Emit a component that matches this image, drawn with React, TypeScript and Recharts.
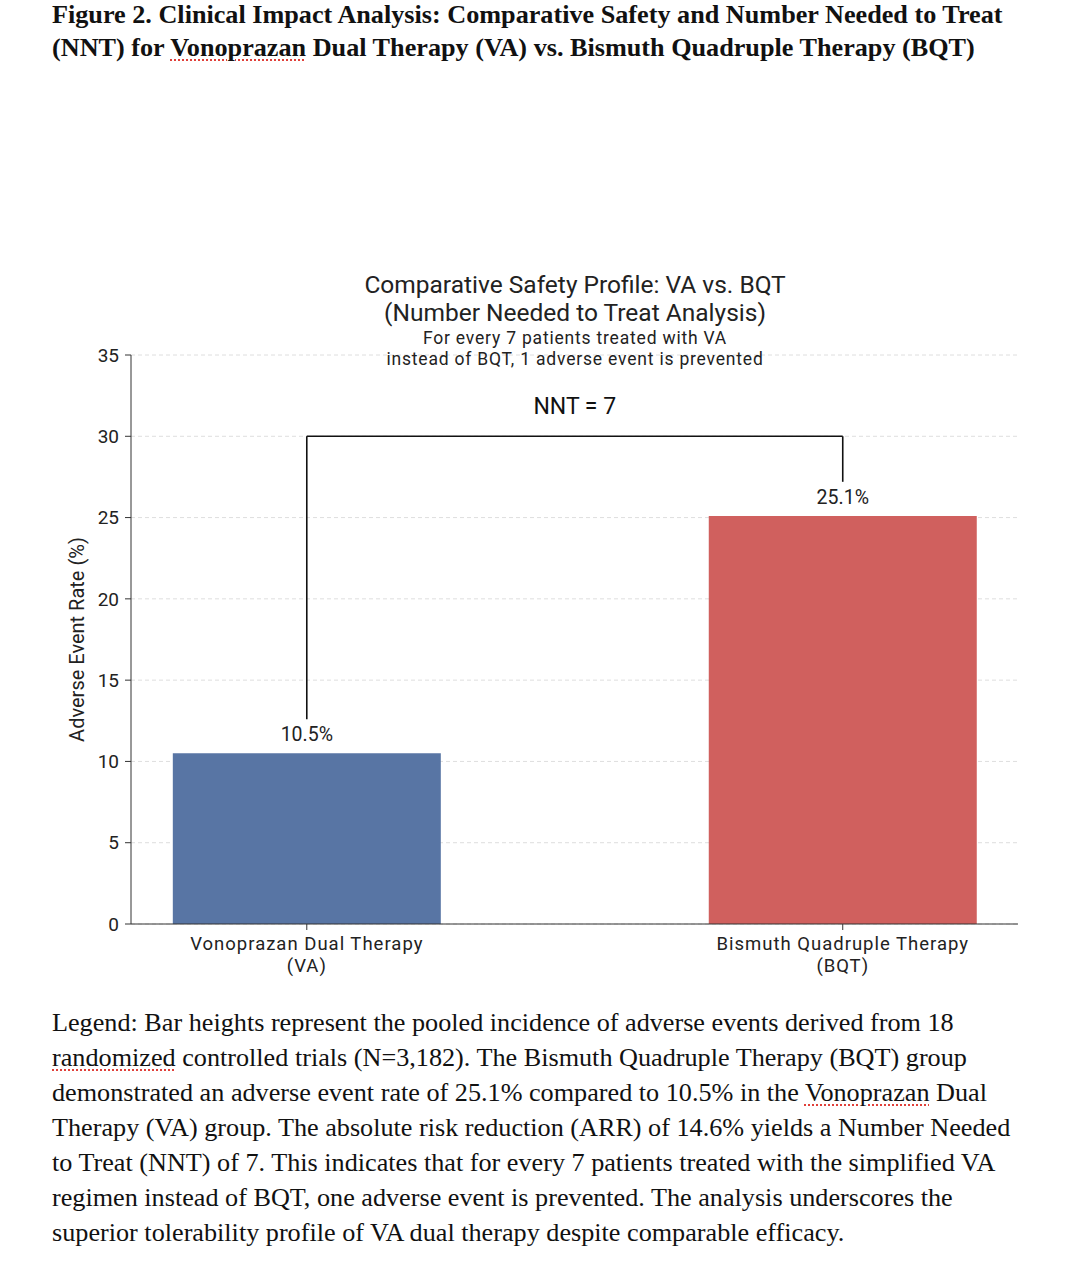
import { BarChart, Bar, XAxis, YAxis, CartesianGrid, Cell, LabelList, ReferenceLine } from 'recharts';

// values
const categories = ['Vonoprazan Dual Therapy', 'Bismuth Quadruple Therapy'];
const categoryAbbr = ['(VA)', '(BQT)'];
const adverseRates = [10.5, 25.1];
const barColors = ['#5875A4', '#D0605E'];
const yTicks = [0, 5, 10, 15, 20, 25, 30, 35];
const nntValue = 7;
const bracketTop = 30;
const bracketGap = 2.1;

const data = categories.map((name, i) => ({ pos: i, name, rate: adverseRates[i] }));

const SANS = 'Roboto, "Open Sans", sans-serif';
const SERIF = '"Liberation Serif", "DejaVu Serif", serif';

const spell = { textDecoration: 'underline dotted #e0403a', textUnderlineOffset: '4px', textDecorationThickness: '2px' };

const XTick = (props: any) => {
    const { x, y, payload } = props;
    const i = payload.value as number;
    return (
        <g transform={`translate(${x},${y})`}>
            <text textAnchor="middle" fontSize={18.5} fill="#222" fontFamily={SANS} letterSpacing={1}>
                <tspan x={0} dy={18}>{categories[i]}</tspan>
                <tspan x={0} dy={22}>{categoryAbbr[i]}</tspan>
            </text>
        </g>
    );
};

export default function App() {
    return (
        <div style={{ position: 'relative', width: 1080, height: 1267, background: '#fff' }}>
            <style>{`body{margin:0}`}</style>

            {/* figure title */}
            <div style={{ position: 'absolute', left: 52, top: -2.5, fontFamily: SERIF, fontWeight: 700, fontSize: 26.2, lineHeight: '33px', color: '#111', whiteSpace: 'nowrap' }}>
                Figure 2. Clinical Impact Analysis: Comparative Safety and Number Needed to Treat<br />
                (NNT) for <span style={spell}>Vonoprazan</span> Dual Therapy (VA) vs. Bismuth Quadruple Therapy (BQT)
            </div>

            <div style={{ position: 'absolute', left: 0, top: 0 }}>
                <BarChart width={1080} height={1000} data={data} margin={{ top: 355, right: 62, bottom: 16, left: 71 }}>
                    <CartesianGrid vertical={false} stroke="#dedede" strokeDasharray="4 3" />
                    <XAxis
                        dataKey="pos"
                        type="number"
                        domain={[-0.328, 1.327]}
                        ticks={[0, 1]}
                        allowDataOverflow
                        height={60}
                        tick={<XTick />}
                        tickSize={6}
                        tickMargin={2}
                        stroke="#333"
                    />
                    <YAxis
                        domain={[0, 35]}
                        ticks={yTicks}
                        width={60}
                        tickSize={6}
                        tickMargin={6}
                        stroke="#333"
                        tick={{ fontSize: 19, fill: '#222', fontFamily: SANS }}
                        label={{ value: 'Adverse Event Rate (%)', angle: -90, position: 'insideLeft', offset: 6, style: { textAnchor: 'middle', fontSize: 20, fill: '#222', fontFamily: SANS } }}
                    />
                    <Bar dataKey="rate" barSize={268} isAnimationActive={false}>
                        {data.map((d, i) => <Cell key={d.name} fill={barColors[i]} />)}
                        <LabelList dataKey="rate" position="top" offset={12} formatter={(v: any) => `${v}%`} style={{ fontSize: 19.5, fill: '#222', fontFamily: SANS }} />
                    </Bar>
                    <ReferenceLine segment={[{ x: 0, y: adverseRates[0] + bracketGap }, { x: 0, y: bracketTop }]} stroke="#111" strokeWidth={1.6} ifOverflow="visible" />
                    <ReferenceLine segment={[{ x: 1, y: adverseRates[1] + bracketGap }, { x: 1, y: bracketTop }]} stroke="#111" strokeWidth={1.6} ifOverflow="visible" />
                    <ReferenceLine
                        segment={[{ x: 0, y: bracketTop }, { x: 1, y: bracketTop }]}
                        stroke="#111"
                        strokeWidth={1.6}
                        ifOverflow="visible"
                        label={{ value: `NNT = ${nntValue}`, position: 'top', offset: 22, style: { fontSize: 23, fill: '#111', fontFamily: SANS } }}
                    />
                </BarChart>
            </div>

            {/* chart title */}
            <div style={{ position: 'absolute', left: 275, width: 600, top: 271, textAlign: 'center', fontFamily: SANS, color: '#222' }}>
                <div style={{ fontSize: 24.5, lineHeight: '28px' }}>Comparative Safety Profile: VA vs. BQT</div>
                <div style={{ fontSize: 24.5, lineHeight: '28px' }}>(Number Needed to Treat Analysis)</div>
                <div style={{ fontSize: 17.5, lineHeight: '21px', letterSpacing: 0.8, marginTop: 1 }}>For every 7 patients treated with VA</div>
                <div style={{ fontSize: 17.5, lineHeight: '21px', letterSpacing: 0.8 }}>instead of BQT, 1 adverse event is prevented</div>
            </div>

            {/* legend text */}
            <div style={{ position: 'absolute', left: 52, top: 1004.5, fontFamily: SERIF, fontSize: 26.2, lineHeight: '35px', color: '#111', whiteSpace: 'nowrap' }}>
                <div>Legend: Bar heights represent the pooled incidence of adverse events derived from 18</div>
                <div><span style={spell}>randomized</span> controlled trials (N=3,182). The Bismuth Quadruple Therapy (BQT) group</div>
                <div>demonstrated an adverse event rate of 25.1% compared to 10.5% in the <span style={spell}>Vonoprazan</span> Dual</div>
                <div>Therapy (VA) group. The absolute risk reduction (ARR) of 14.6% yields a Number Needed</div>
                <div>to Treat (NNT) of 7. This indicates that for every 7 patients treated with the simplified VA</div>
                <div>regimen instead of BQT, one adverse event is prevented. The analysis underscores the</div>
                <div>superior tolerability profile of VA dual therapy despite comparable efficacy.</div>
            </div>
        </div>
    );
}
